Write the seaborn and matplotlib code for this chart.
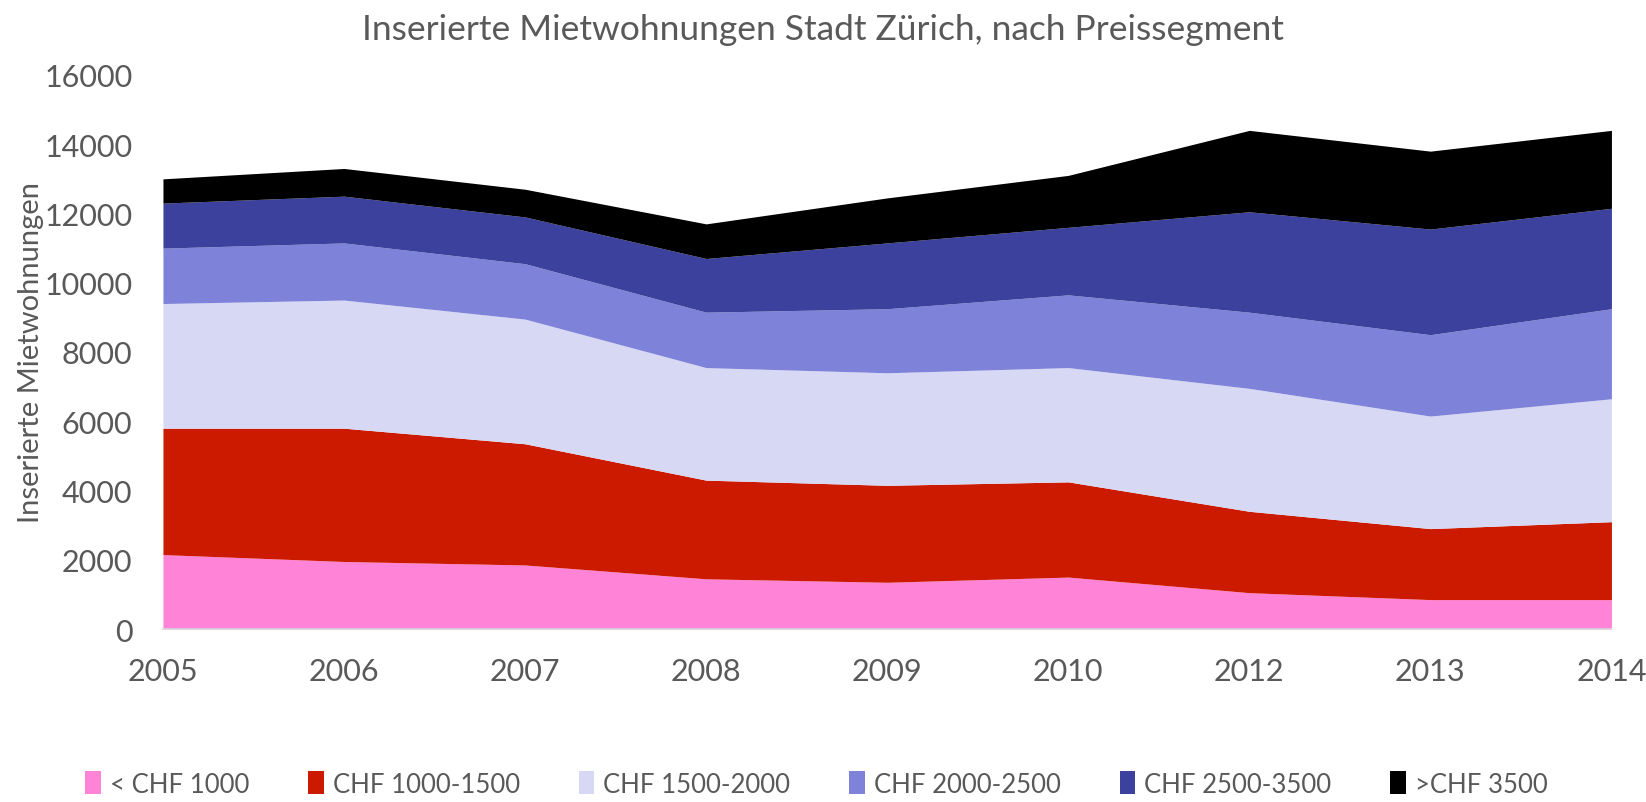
import pandas as pd
import numpy as np
import seaborn as sns
import matplotlib.pyplot as plt
from matplotlib.patches import Patch

# Data (stacked values per price segment)
years = ["2005", "2006", "2007", "2008", "2009", "2010", "2012", "2013", "2014"]
segments = ["< CHF 1000", "CHF 1000-1500", "CHF 1500-2000",
            "CHF 2000-2500", "CHF 2500-3500", ">CHF 3500"]
unter_1000 = [2150, 1950, 1850, 1450, 1350, 1500, 1050, 850, 850]
chf_1000_1500 = [3650, 3850, 3500, 2850, 2800, 2750, 2350, 2050, 2250]
chf_1500_2000 = [3600, 3700, 3600, 3250, 3250, 3300, 3550, 3250, 3550]
chf_2000_2500 = [1600, 1650, 1600, 1600, 1850, 2100, 2200, 2350, 2600]
chf_2500_3500 = [1300, 1350, 1350, 1550, 1900, 1950, 2900, 3050, 2900]
ueber_3500 = [700, 800, 800, 1000, 1300, 1500, 2350, 2250, 2250]

colors = ["#ff83d6", "#cc1a00", "#d7d8f3", "#7e82d8", "#3b419c", "#000000"]

df = pd.DataFrame({
    segments[0]: unter_1000,
    segments[1]: chf_1000_1500,
    segments[2]: chf_1500_2000,
    segments[3]: chf_2000_2500,
    segments[4]: chf_2500_3500,
    segments[5]: ueber_3500,
}, index=years)

sns.set_theme(style="white")
plt.rcParams['font.family'] = ['Lato', 'DejaVu Sans']
grey = "#595959"

fig = plt.figure(figsize=(16.46, 8.03), dpi=100)
ax = fig.add_axes([0.099, 0.2154, 0.88, 0.69])

x = np.arange(len(years))
ax.stackplot(x, [df[s].values for s in segments], colors=colors, linewidth=0)

ax.set_xlim(0, len(years) - 1)
ax.set_ylim(0, 16000)
ax.set_yticks(range(0, 16001, 2000))
ax.set_xticks(x)
ax.set_xticklabels(years)
ax.tick_params(axis="both", colors=grey, labelsize=22, length=0)
ax.tick_params(axis="x", pad=20)
ax.tick_params(axis="y", pad=22)

for side in ["top", "right", "left"]:
    ax.spines[side].set_visible(False)
ax.spines["bottom"].set_color("#d9d9d9")
ax.spines["bottom"].set_linewidth(1.2)

ax.set_ylabel("Inserierte Mietwohnungen", color=grey, fontsize=21, labelpad=0)
fig.suptitle("Inserierte Mietwohnungen Stadt Zürich, nach Preissegment",
             color=grey, fontsize=25.5, y=0.982)

handles = [Patch(facecolor=c, edgecolor="none") for c in colors]
fig.legend(handles, segments, loc="lower center", ncol=6, frameon=False,
           fontsize=18.5, labelcolor=grey, handlelength=0.6, handleheight=1.0,
           handletextpad=0.35, columnspacing=2.3, bbox_to_anchor=(0.496, -0.022))

plt.savefig("out.png", dpi=100)
